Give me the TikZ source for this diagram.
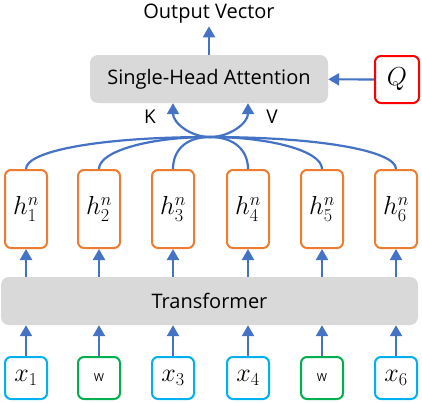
\documentclass[tikz,border=0pt]{standalone}
\usepackage{fix-cm}
\usepackage{fontspec}
\setmainfont{Open Sans}
\usetikzlibrary{arrows.meta}

\definecolor{lineblue}{HTML}{4472C4}
\definecolor{horange}{HTML}{ED7D31}
\definecolor{xblue}{HTML}{00B0F0}
\definecolor{wgreen}{HTML}{00B050}
\definecolor{qred}{HTML}{FF0000}
\definecolor{boxgray}{HTML}{D9D9D9}

\begin{document}
\begin{tikzpicture}[x=1pt, y=-1pt,
    box/.style={draw, rounded corners=6pt, line width=2pt, inner sep=0pt,
                minimum width=42pt, minimum height=42pt,
                font=\fontsize{26}{30}\selectfont},
    graybox/.style={fill=boxgray, rounded corners=8pt, inner sep=0pt,
                    minimum height=48pt, font=\fontsize{20}{24}\selectfont},
    link/.style={draw=lineblue, line width=2.2pt},
    arr/.style={link, -{Triangle[length=11pt, width=12pt]}}]

  \useasboundingbox (0,0) rectangle (422,402);

  \node[font=\fontsize{20}{24}\selectfont, anchor=base] (out) at (209,18) {Output Vector};
  \node[graybox, minimum width=238pt] (att) at (209,79) {Single-Head Attention};
  \node[box, draw=qred, minimum width=44pt, minimum height=47pt] (q) at (397,79.5) {$Q$};
  \node[graybox, minimum width=417pt] (tf) at (209.5,301) {Transformer};

  \node[font=\fontsize{19}{22}\selectfont] (k) at (150,117) {K};
  \node[font=\fontsize{19}{22}\selectfont] (v) at (272,117) {V};
  \coordinate (m) at (210,137);

  \foreach \i/\x in {1/26, 2/99, 3/173, 4/248, 5/322, 6/396} {
    \node[box, draw=horange, minimum height=78pt] (h\i) at (\x,209) {$h^{n}_{\i}$};
  }

  \node[box, draw=xblue] (in1) at (26,378) {$x_1$};
  \node[box, draw=wgreen, font=\fontsize{11}{13}\selectfont] (in2) at (99,378) {W};
  \node[box, draw=xblue] (in3) at (173,378) {$x_3$};
  \node[box, draw=xblue] (in4) at (248,378) {$x_4$};
  \node[box, draw=wgreen, font=\fontsize{11}{13}\selectfont] (in5) at (322,378) {W};
  \node[box, draw=xblue] (in6) at (396,378) {$x_6$};

  \foreach \i in {1,...,6} {
    \draw[arr] (in\i.north) -- (in\i.north |- tf.south);
    \draw[arr] (h\i.south |- tf.north) -- (h\i.south);
  }

  \foreach \i/\c in {1/110, 2/60, 3/25} {
    \draw[link] (h\i.north) .. controls +(0,-18) and +(-\c,0) .. (m);
  }
  \foreach \i/\c in {4/25, 5/60, 6/110} {
    \draw[link] (h\i.north) .. controls +(0,-18) and +(\c,0) .. (m);
  }

  \draw[arr] (m) to[out=180, in=-90] (att.south -| h3);
  \draw[arr] (m) to[out=0, in=-90] (att.south -| h4);
  \draw[arr] (att.north) -- (out.south);
  \draw[arr] (q) -- (att);
\end{tikzpicture}
\end{document}
